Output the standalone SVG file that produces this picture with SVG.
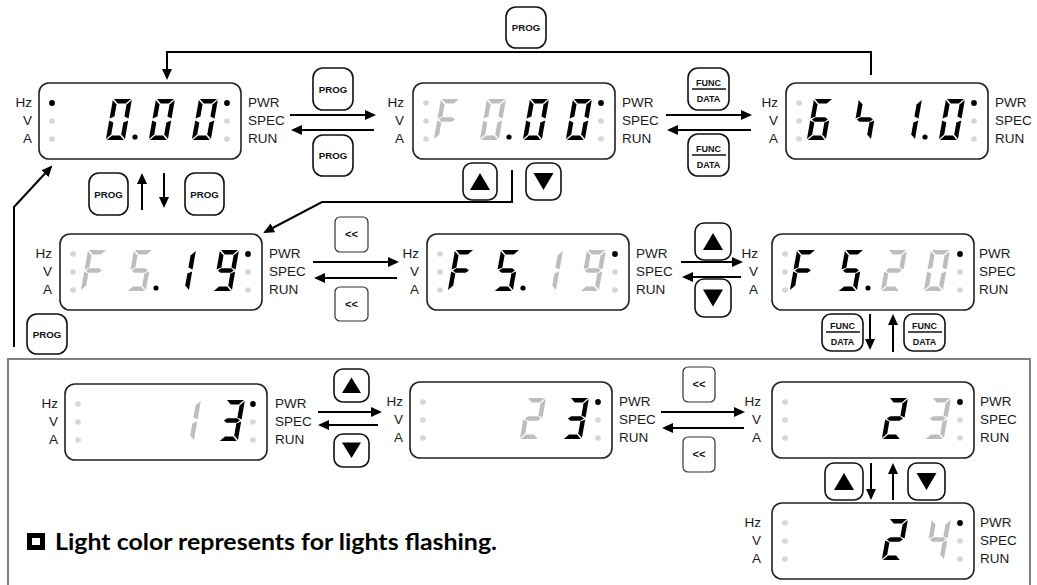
<svg xmlns="http://www.w3.org/2000/svg" width="1037" height="585" viewBox="0 0 1037 585">
<style>
.lbl{font-family:"Liberation Sans",Arial,sans-serif;font-size:13.5px;fill:#1a1a1a}
.le{text-anchor:end}
.box{fill:#fff;stroke:#222;stroke-width:1.6}
.btn{fill:#fff;stroke:#111;stroke-width:1.6}
.sbtn{fill:#fff;stroke:#333;stroke-width:1.2}
.bt{font-family:"Liberation Sans",Arial,sans-serif;font-weight:bold;font-size:9.7px;text-anchor:middle;fill:#111}
.ft{font-family:"Liberation Sans",Arial,sans-serif;font-weight:bold;font-size:9px;text-anchor:middle;fill:#111}
.lt{font-family:"Liberation Sans",Arial,sans-serif;font-weight:bold;font-size:11px;text-anchor:middle;fill:#111}
.con path{fill:none;stroke:#000;stroke-width:2;marker-end:url(#ah)}
.on{fill:#000}
.off{fill:#bdbdbd}
.ledon{fill:#000}
.ledoff{fill:#d6d6d6}
.tri{fill:#000}
</style>
<defs>
<marker id="ah" viewBox="0 0 11 10" refX="9" refY="5" markerWidth="11" markerHeight="10" markerUnits="userSpaceOnUse" orient="auto"><path d="M0,0 L11,5 L0,10 Z" fill="#000"/></marker>
<path id="sa" d="M1,0 H18 L13.5,4.5 H5.5 Z"/>
<path id="sb" d="M19,1 V19.5 L14.5,17.5 V5.5 Z"/>
<path id="sc" d="M19,21.5 V40 L14.5,35.5 V23.5 Z"/>
<path id="sd" d="M5.5,36.5 H13.5 L18,41 H1 Z"/>
<path id="se" d="M0,21.5 L4.5,23.5 V35.5 L0,40 Z"/>
<path id="sf" d="M0,1 L4.5,5.5 V17.5 L0,19.5 Z"/>
<path id="sg" d="M1.5,20.5 L4.5,18.3 H14.5 L17.5,20.5 L14.5,22.7 H4.5 Z"/>
<g id="d0" transform="skewX(-10)"><use href="#sa"/><use href="#sb"/><use href="#sc"/><use href="#sd"/><use href="#se"/><use href="#sf"/></g>
<g id="d1" transform="skewX(-10)"><use href="#sb"/><use href="#sc"/></g>
<g id="d2" transform="skewX(-10)"><use href="#sa"/><use href="#sb"/><use href="#sg"/><use href="#se"/><use href="#sd"/></g>
<g id="d3" transform="skewX(-10)"><use href="#sa"/><use href="#sb"/><use href="#sg"/><use href="#sc"/><use href="#sd"/></g>
<g id="d4" transform="skewX(-10)"><use href="#sf"/><use href="#sg"/><use href="#sb"/><use href="#sc"/></g>
<g id="d4b" transform="skewX(-10)"><use href="#sf"/><use href="#sg"/><use href="#sc"/></g>
<g id="d5" transform="skewX(-10)"><use href="#sa"/><use href="#sf"/><use href="#sg"/><use href="#sc"/><use href="#sd"/></g>
<g id="d6" transform="skewX(-10)"><use href="#sa"/><use href="#sf"/><use href="#sg"/><use href="#se"/><use href="#sd"/><use href="#sc"/></g>
<g id="d9" transform="skewX(-10)"><use href="#sa"/><use href="#sb"/><use href="#sc"/><use href="#sd"/><use href="#sf"/><use href="#sg"/></g>
<g id="dF" transform="skewX(-10)"><use href="#sa"/><use href="#sf"/><use href="#sg"/><use href="#se"/></g>
</defs>
<rect width="1037" height="585" fill="#fff"/>
<rect id="frame" x="8" y="359" width="1022" height="240" fill="none" stroke="#808080" stroke-width="2"/>

<g id="connectors" class="con">
<path d="M871,75 V52 H167 V78"/>
<path d="M290,115 H374"/>
<path d="M374,130 H293"/>
<path d="M666,115 H750"/>
<path d="M751,130 H669"/>
<path d="M142,210 V175"/>
<path d="M164,173 V206"/>
<path d="M512,170 V202 H322 L265,232"/>
<path d="M14,347 V207 L51,167"/>
<path d="M313,262 H397"/>
<path d="M397,278 H316"/>
<path d="M681,262 H741"/>
<path d="M741,277 H684"/>
<path d="M870,314 V348"/>
<path d="M893,352 V316"/>
<path d="M318,412 H380"/>
<path d="M378,425 H320"/>
<path d="M661,412 H743"/>
<path d="M744,428 H664"/>
<path d="M871,463 V498"/>
<path d="M893,500 V465"/>
</g>

<g id="disp-a">
<rect class="box" x="39" y="83" width="202" height="76" rx="10"/>
<circle class="ledon" cx="52" cy="103" r="2.9"/><circle class="ledoff" cx="52" cy="121" r="2.8"/><circle class="ledoff" cx="52" cy="139" r="2.8"/>
<circle class="ledon" cx="227" cy="103" r="2.9"/><circle class="ledoff" cx="227" cy="121" r="2.8"/><circle class="ledoff" cx="227" cy="139" r="2.8"/>
<text class="lbl le" x="32" y="107">Hz</text><text class="lbl le" x="32" y="125">V</text><text class="lbl le" x="32" y="143">A</text>
<text class="lbl" x="248" y="107">PWR</text><text class="lbl" x="248" y="125">SPEC</text><text class="lbl" x="248" y="143">RUN</text>
<use href="#d0" class="on" x="113" y="99"/>
<circle class="on" cx="135" cy="137" r="2.6"/>
<use href="#d0" class="on" x="156" y="99"/>
<use href="#d0" class="on" x="199" y="99"/>
</g>

<g id="disp-b">
<rect class="box" x="413" y="83" width="202" height="76" rx="10"/>
<circle class="ledoff" cx="426" cy="103" r="2.8"/><circle class="ledoff" cx="426" cy="121" r="2.8"/><circle class="ledoff" cx="426" cy="139" r="2.8"/>
<circle class="ledon" cx="601" cy="103" r="2.9"/><circle class="ledoff" cx="601" cy="121" r="2.8"/><circle class="ledoff" cx="601" cy="139" r="2.8"/>
<text class="lbl le" x="404" y="107">Hz</text><text class="lbl le" x="404" y="125">V</text><text class="lbl le" x="404" y="143">A</text>
<text class="lbl" x="622" y="107">PWR</text><text class="lbl" x="622" y="125">SPEC</text><text class="lbl" x="622" y="143">RUN</text>
<use href="#dF" class="off" x="441" y="99"/>
<use href="#d0" class="off" x="487" y="99"/>
<circle class="on" cx="509" cy="137" r="2.6"/>
<use href="#d0" class="on" x="530" y="99"/>
<use href="#d0" class="on" x="573" y="99"/>
</g>

<g id="disp-c">
<rect class="box" x="786" y="83" width="202" height="76" rx="10"/>
<circle class="ledoff" cx="799" cy="103" r="2.8"/><circle class="ledoff" cx="799" cy="121" r="2.8"/><circle class="ledoff" cx="799" cy="139" r="2.8"/>
<circle class="ledon" cx="974" cy="103" r="2.9"/><circle class="ledoff" cx="974" cy="121" r="2.8"/><circle class="ledoff" cx="974" cy="139" r="2.8"/>
<text class="lbl le" x="778" y="107">Hz</text><text class="lbl le" x="778" y="125">V</text><text class="lbl le" x="778" y="143">A</text>
<text class="lbl" x="995" y="107">PWR</text><text class="lbl" x="995" y="125">SPEC</text><text class="lbl" x="995" y="143">RUN</text>
<use href="#d6" class="on" x="814" y="99"/>
<use href="#d4b" class="on" x="859" y="99"/>
<use href="#d1" class="on" x="903" y="99"/>
<circle class="on" cx="925" cy="137" r="2.6"/>
<use href="#d0" class="on" x="946" y="99"/>
</g>

<g id="disp-d">
<rect class="box" x="60" y="234" width="202" height="76" rx="10"/>
<circle class="ledoff" cx="73" cy="254" r="2.8"/><circle class="ledoff" cx="73" cy="272" r="2.8"/><circle class="ledoff" cx="73" cy="290" r="2.8"/>
<circle class="ledon" cx="248" cy="254" r="2.9"/><circle class="ledoff" cx="248" cy="272" r="2.8"/><circle class="ledoff" cx="248" cy="290" r="2.8"/>
<text class="lbl le" x="52" y="258">Hz</text><text class="lbl le" x="52" y="276">V</text><text class="lbl le" x="52" y="294">A</text>
<text class="lbl" x="269" y="258">PWR</text><text class="lbl" x="269" y="276">SPEC</text><text class="lbl" x="269" y="294">RUN</text>
<use href="#dF" class="off" x="88" y="250"/>
<use href="#d5" class="off" x="134" y="250"/>
<circle class="on" cx="156" cy="288" r="2.6"/>
<use href="#d1" class="on" x="177" y="250"/>
<use href="#d9" class="on" x="220" y="250"/>
</g>

<g id="disp-e">
<rect class="box" x="427" y="234" width="202" height="76" rx="10"/>
<circle class="ledoff" cx="440" cy="254" r="2.8"/><circle class="ledoff" cx="440" cy="272" r="2.8"/><circle class="ledoff" cx="440" cy="290" r="2.8"/>
<circle class="ledon" cx="615" cy="254" r="2.9"/><circle class="ledoff" cx="615" cy="272" r="2.8"/><circle class="ledoff" cx="615" cy="290" r="2.8"/>
<text class="lbl le" x="419" y="258">Hz</text><text class="lbl le" x="419" y="276">V</text><text class="lbl le" x="419" y="294">A</text>
<text class="lbl" x="636" y="258">PWR</text><text class="lbl" x="636" y="276">SPEC</text><text class="lbl" x="636" y="294">RUN</text>
<use href="#dF" class="on" x="455" y="250"/>
<use href="#d5" class="on" x="501" y="250"/>
<circle class="on" cx="523" cy="288" r="2.6"/>
<use href="#d1" class="off" x="544" y="250"/>
<use href="#d9" class="off" x="587" y="250"/>
</g>

<g id="disp-f">
<rect class="box" x="772" y="234" width="202" height="76" rx="10"/>
<circle class="ledoff" cx="785" cy="254" r="2.8"/><circle class="ledoff" cx="785" cy="272" r="2.8"/><circle class="ledoff" cx="785" cy="290" r="2.8"/>
<circle class="ledon" cx="960" cy="254" r="2.9"/><circle class="ledoff" cx="960" cy="272" r="2.8"/><circle class="ledoff" cx="960" cy="290" r="2.8"/>
<text class="lbl le" x="758" y="258">Hz</text><text class="lbl le" x="758" y="276">V</text><text class="lbl le" x="758" y="294">A</text>
<text class="lbl" x="979" y="258">PWR</text><text class="lbl" x="979" y="276">SPEC</text><text class="lbl" x="979" y="294">RUN</text>
<use href="#dF" class="on" x="797" y="250"/>
<use href="#d5" class="on" x="845" y="250"/>
<circle class="on" cx="868" cy="288" r="2.6"/>
<use href="#d2" class="off" x="888" y="250"/>
<use href="#d0" class="off" x="931" y="250"/>
</g>

<g id="disp-g">
<rect class="box" x="65" y="384" width="202" height="76" rx="10"/>
<circle class="ledoff" cx="78" cy="404" r="2.8"/><circle class="ledoff" cx="78" cy="422" r="2.8"/><circle class="ledoff" cx="78" cy="440" r="2.8"/>
<circle class="ledon" cx="253" cy="404" r="2.9"/><circle class="ledoff" cx="253" cy="422" r="2.8"/><circle class="ledoff" cx="253" cy="440" r="2.8"/>
<text class="lbl le" x="58" y="408">Hz</text><text class="lbl le" x="58" y="426">V</text><text class="lbl le" x="58" y="444">A</text>
<text class="lbl" x="275" y="408">PWR</text><text class="lbl" x="275" y="426">SPEC</text><text class="lbl" x="275" y="444">RUN</text>
<use href="#d1" class="off" x="182" y="400"/>
<use href="#d3" class="on" x="226" y="400"/>
</g>

<g id="disp-h">
<rect class="box" x="410" y="382" width="202" height="76" rx="10"/>
<circle class="ledoff" cx="423" cy="402" r="2.8"/><circle class="ledoff" cx="423" cy="420" r="2.8"/><circle class="ledoff" cx="423" cy="438" r="2.8"/>
<circle class="ledon" cx="598" cy="402" r="2.9"/><circle class="ledoff" cx="598" cy="420" r="2.8"/><circle class="ledoff" cx="598" cy="438" r="2.8"/>
<text class="lbl le" x="403" y="406">Hz</text><text class="lbl le" x="403" y="424">V</text><text class="lbl le" x="403" y="442">A</text>
<text class="lbl" x="619" y="406">PWR</text><text class="lbl" x="619" y="424">SPEC</text><text class="lbl" x="619" y="442">RUN</text>
<use href="#d2" class="off" x="527" y="398"/>
<use href="#d3" class="on" x="570" y="398"/>
</g>

<g id="disp-i">
<rect class="box" x="772" y="382" width="202" height="76" rx="10"/>
<circle class="ledoff" cx="785" cy="402" r="2.8"/><circle class="ledoff" cx="785" cy="420" r="2.8"/><circle class="ledoff" cx="785" cy="438" r="2.8"/>
<circle class="ledon" cx="960" cy="402" r="2.9"/><circle class="ledoff" cx="960" cy="420" r="2.8"/><circle class="ledoff" cx="960" cy="438" r="2.8"/>
<text class="lbl le" x="761" y="406">Hz</text><text class="lbl le" x="761" y="424">V</text><text class="lbl le" x="761" y="442">A</text>
<text class="lbl" x="980" y="406">PWR</text><text class="lbl" x="980" y="424">SPEC</text><text class="lbl" x="980" y="442">RUN</text>
<use href="#d2" class="on" x="889" y="398"/>
<use href="#d3" class="off" x="932" y="398"/>
</g>

<g id="disp-j">
<rect class="box" x="772" y="503" width="202" height="76" rx="10"/>
<circle class="ledoff" cx="785" cy="523" r="2.8"/><circle class="ledoff" cx="785" cy="541" r="2.8"/><circle class="ledoff" cx="785" cy="559" r="2.8"/>
<circle class="ledon" cx="960" cy="523" r="2.9"/><circle class="ledoff" cx="960" cy="541" r="2.8"/><circle class="ledoff" cx="960" cy="559" r="2.8"/>
<text class="lbl le" x="761" y="527">Hz</text><text class="lbl le" x="761" y="545">V</text><text class="lbl le" x="761" y="563">A</text>
<text class="lbl" x="980" y="527">PWR</text><text class="lbl" x="980" y="545">SPEC</text><text class="lbl" x="980" y="563">RUN</text>
<use href="#d2" class="on" x="889" y="519"/>
<use href="#d4" class="off" x="932" y="519"/>
</g>

<g id="btn-prog-top"><rect class="btn" x="506" y="7" width="40" height="41" rx="10"/><text class="bt" x="526" y="31">PROG</text></g>
<g id="btn-prog-ab"><rect class="btn" x="313" y="68" width="40" height="42" rx="10"/><text class="bt" x="333" y="92.5">PROG</text></g>
<g id="btn-prog-ba"><rect class="btn" x="313" y="135" width="40" height="41" rx="10"/><text class="bt" x="333" y="159">PROG</text></g>
<g id="btn-prog-a1"><rect class="btn" x="89" y="173" width="39" height="42" rx="10"/><text class="bt" x="108.5" y="197.5">PROG</text></g>
<g id="btn-prog-a2"><rect class="btn" x="185" y="173" width="39" height="42" rx="10"/><text class="bt" x="204.5" y="197.5">PROG</text></g>
<g id="btn-prog-ll"><rect class="btn" x="27" y="314" width="40" height="40" rx="10"/><text class="bt" x="47" y="337.5">PROG</text></g>

<g id="btn-func-bc"><rect class="btn" x="688" y="68" width="41" height="42" rx="10"/><text class="ft" x="708.5" y="86">FUNC</text><line x1="692" y1="89" x2="726" y2="89" stroke="#111" stroke-width="1.5"/><text class="ft" x="708.5" y="101.5">DATA</text></g>
<g id="btn-func-cb"><rect class="btn" x="688" y="134" width="41" height="42" rx="10"/><text class="ft" x="708.5" y="152">FUNC</text><line x1="692" y1="155" x2="726" y2="155" stroke="#111" stroke-width="1.5"/><text class="ft" x="708.5" y="167.5">DATA</text></g>
<g id="btn-func-f1"><rect class="btn" x="822" y="314" width="41" height="37" rx="9"/><text class="ft" x="842.5" y="329">FUNC</text><line x1="826" y1="332" x2="860" y2="332" stroke="#111" stroke-width="1.5"/><text class="ft" x="842.5" y="345">DATA</text></g>
<g id="btn-func-f2"><rect class="btn" x="904" y="314" width="41" height="37" rx="9"/><text class="ft" x="924.5" y="329">FUNC</text><line x1="908" y1="332" x2="942" y2="332" stroke="#111" stroke-width="1.5"/><text class="ft" x="924.5" y="345">DATA</text></g>

<g id="btn-up-b"><rect class="btn" x="463" y="163" width="34" height="37" rx="9"/><path class="tri" d="M480,173 L490,190 L470,190 Z"/></g>
<g id="btn-down-b"><rect class="btn" x="526" y="163" width="35" height="37" rx="9"/><path class="tri" d="M533.5,173 L553.5,173 L543.5,190 Z"/></g>
<g id="btn-up-ef"><rect class="btn" x="695" y="223" width="36" height="37" rx="9"/><path class="tri" d="M713,233 L723,250 L703,250 Z"/></g>
<g id="btn-down-ef"><rect class="btn" x="695" y="279" width="36" height="38" rx="9"/><path class="tri" d="M703,289.5 L723,289.5 L713,306.5 Z"/></g>
<g id="btn-up-gh"><rect class="btn" x="334" y="369" width="35" height="33" rx="9"/><path class="tri" d="M351.5,377.5 L361,393 L342,393 Z"/></g>
<g id="btn-down-gh"><rect class="btn" x="334" y="434" width="35" height="33" rx="9"/><path class="tri" d="M342,442.5 L361,442.5 L351.5,458 Z"/></g>
<g id="btn-up-ij"><rect class="btn" x="825" y="463" width="38" height="37" rx="9"/><path class="tri" d="M844,473 L854,490 L834,490 Z"/></g>
<g id="btn-down-ij"><rect class="btn" x="908" y="463" width="37" height="37" rx="9"/><path class="tri" d="M916.5,473 L936.5,473 L926.5,490 Z"/></g>

<g id="btn-shift-de"><rect class="sbtn" x="335" y="217" width="33" height="35" rx="5"/><text class="lt" x="351.5" y="238">&lt;&lt;</text></g>
<g id="btn-shift-ed"><rect class="sbtn" x="335" y="287" width="33" height="34" rx="5"/><text class="lt" x="351.5" y="308">&lt;&lt;</text></g>
<g id="btn-shift-hi"><rect class="sbtn" x="683" y="367" width="32" height="35" rx="5"/><text class="lt" x="699" y="388">&lt;&lt;</text></g>
<g id="btn-shift-ih"><rect class="sbtn" x="683" y="437" width="32" height="35" rx="5"/><text class="lt" x="699" y="458">&lt;&lt;</text></g>

<g id="legend">
<rect x="27" y="533" width="18" height="17" fill="#000"/>
<rect x="32" y="538" width="8" height="7" fill="#fff"/>
<text x="55" y="550" font-family="Lato,'Open Sans',sans-serif" font-weight="bold" font-size="23" fill="#000" textLength="442" lengthAdjust="spacingAndGlyphs">Light color represents for lights flashing.</text>
</g>
</svg>
